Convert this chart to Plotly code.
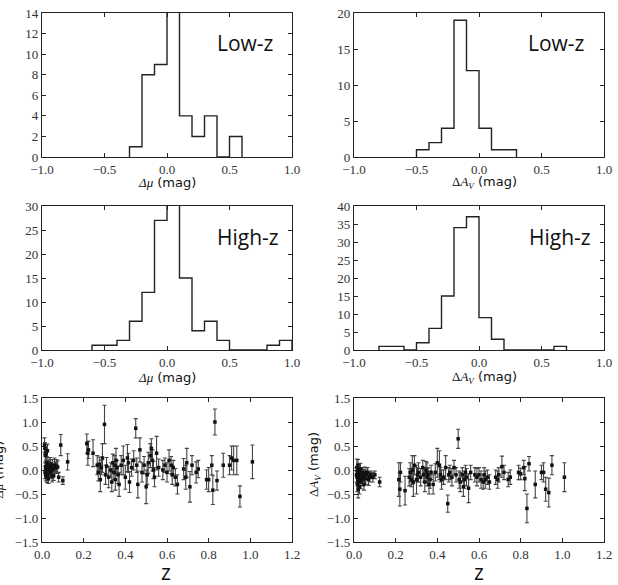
import plotly.graph_objects as go
from plotly.subplots import make_subplots

# ---------------- histogram data ----------------
lowz_dmu_edges = [-0.3, -0.2, -0.1, 0.0, 0.1, 0.2, 0.3, 0.4, 0.5, 0.6]
lowz_dmu_counts = [1, 8, 9, 15, 4, 2, 4, 0, 2]
lowz_dav_edges = [-0.5, -0.4, -0.3, -0.2, -0.1, 0.0, 0.1, 0.2, 0.3]
lowz_dav_counts = [1, 2, 4, 19, 12, 4, 1, 1]
highz_dmu_edges = [-0.6, -0.5, -0.4, -0.3, -0.2, -0.1, 0.0, 0.1, 0.2, 0.3, 0.4, 0.5, 0.6, 0.7, 0.8, 0.9, 1.0]
highz_dmu_counts = [1, 1, 2, 6, 12, 27, 33, 15, 4, 6, 2, 0, 0, 0, 1, 2]
highz_dav_edges = [-0.8, -0.7, -0.6, -0.5, -0.4, -0.3, -0.2, -0.1, 0.0, 0.1, 0.2, 0.3, 0.4, 0.5, 0.6, 0.7]
highz_dav_counts = [1, 1, 0, 2, 6, 15, 34, 37, 9, 3, 0, 0, 0, 0, 1]

# mean markers (dotted) per histogram
mean_lowz_dmu = 0.005
mean_lowz_dav = -0.08
mean_highz_dmu = 0.01
mean_highz_dav = -0.13
mean_dav_all = -0.1

# ---------------- scatter data ----------------
z_low = [0.012, 0.014, 0.015, 0.016, 0.017, 0.018, 0.019, 0.020, 0.021, 0.022,
         0.023, 0.024, 0.025, 0.026, 0.027, 0.028, 0.030, 0.031, 0.033, 0.035,
         0.037, 0.040, 0.042, 0.045, 0.048, 0.050, 0.053, 0.056, 0.060, 0.065,
         0.070, 0.075, 0.080, 0.090, 0.100, 0.123]
dmu_low = [0.52, 0.45, -0.05, 0.30, 0.02, -0.12, 0.08, 0.35, -0.08, 0.05,
           0.15, -0.15, 0.00, 0.40, -0.10, 0.03, 0.06, -0.18, 0.10, 0.07,
           -0.02, 0.12, -0.06, 0.04, -0.14, 0.09, 0.01, -0.12, 0.10, 0.05,
           0.08, 0.06, -0.15, 0.52, -0.22, 0.17]
dmu_err_low = [0.15, 0.12, 0.13, 0.14, 0.12, 0.11, 0.12, 0.15, 0.10, 0.12,
               0.13, 0.11, 0.10, 0.14, 0.12, 0.11, 0.12, 0.10, 0.13, 0.12,
               0.11, 0.14, 0.10, 0.12, 0.11, 0.13, 0.12, 0.10, 0.15, 0.12,
               0.14, 0.13, 0.10, 0.22, 0.08, 0.17]
dav_low = [-0.10, 0.05, -0.15, -0.30, -0.05, -0.20, 0.10, -0.40, -0.10, -0.25,
           0.00, -0.15, -0.05, -0.35, -0.20, -0.10, -0.12, 0.02, -0.25, -0.08,
           -0.15, -0.05, -0.20, -0.10, -0.30, -0.15, -0.05, -0.18, -0.10, -0.05,
           -0.20, -0.15, -0.10, -0.15, -0.10, -0.25]
dav_err_low = [0.15, 0.18, 0.12, 0.15, 0.12, 0.15, 0.12, 0.18, 0.10, 0.14,
               0.12, 0.13, 0.10, 0.15, 0.12, 0.11, 0.10, 0.12, 0.14, 0.10,
               0.12, 0.10, 0.13, 0.11, 0.12, 0.10, 0.11, 0.12, 0.10, 0.10,
               0.12, 0.10, 0.08, 0.10, 0.08, 0.10]

z_high = [0.215, 0.22, 0.223, 0.245, 0.265, 0.27, 0.275, 0.28, 0.285, 0.29,
          0.30, 0.305, 0.31, 0.32, 0.33, 0.335, 0.34, 0.345, 0.35, 0.352,
          0.355, 0.36, 0.365, 0.37, 0.38, 0.39, 0.40, 0.41, 0.415, 0.42,
          0.43, 0.44, 0.45, 0.455, 0.46, 0.47, 0.48, 0.49, 0.50, 0.505,
          0.51, 0.52, 0.525, 0.53, 0.535, 0.54, 0.55, 0.56, 0.58, 0.59,
          0.60, 0.61, 0.62, 0.625, 0.63, 0.64, 0.65, 0.68, 0.69, 0.695,
          0.71, 0.72, 0.74, 0.75, 0.79, 0.80, 0.815, 0.82, 0.83, 0.84,
          0.87, 0.90, 0.91, 0.92, 0.935, 0.95, 1.01]
dmu_high = [0.55, 0.35, 0.42, 0.35, 0.10, -0.05, 0.12, -0.20, 0.05, 0.25,
            0.95, -0.10, 0.08, -0.15, 0.00, -0.25, 0.15, -0.05, 0.10, -0.20,
            0.20, 0.05, -0.10, -0.30, 0.10, 0.20, -0.15, 0.25, 0.15, -0.25,
            0.05, 0.20, 0.87, 0.10, -0.30, 0.42, -0.05, 0.10, -0.35, -0.10,
            0.15, 0.30, 0.45, 0.20, 0.00, -0.15, 0.35, 0.05, 0.00, 0.10,
            -0.05, 0.20, 0.10, -0.10, 0.05, -0.15, -0.30, 0.02, -0.15, 0.15,
            -0.35, 0.10, -0.05, 0.02, -0.20, -0.20, 0.10, -0.42, 1.00, -0.22,
            0.10, 0.10, 0.25, 0.20, 0.20, -0.55, 0.17]
dmu_err_high = [0.20, 0.25, 0.18, 0.28, 0.20, 0.18, 0.15, 0.25, 0.15, 0.30,
                0.40, 0.20, 0.18, 0.22, 0.15, 0.20, 0.18, 0.15, 0.20, 0.22,
                0.25, 0.15, 0.18, 0.25, 0.20, 0.30, 0.25, 0.28, 0.20, 0.22,
                0.18, 0.20, 0.20, 0.15, 0.28, 0.25, 0.20, 0.18, 0.35, 0.20,
                0.22, 0.25, 0.20, 0.22, 0.18, 0.20, 0.35, 0.18, 0.20, 0.15,
                0.20, 0.22, 0.18, 0.20, 0.15, 0.18, 0.20, 0.22, 0.25, 0.30,
                0.32, 0.20, 0.22, 0.18, 0.20, 0.25, 0.20, 0.30, 0.27, 0.20,
                0.25, 0.20, 0.25, 0.30, 0.30, 0.22, 0.35]
dav_high = [-0.20, -0.40, -0.05, -0.43, -0.15, -0.05, -0.20, 0.00, -0.25, 0.10,
            -0.20, -0.10, -0.05, -0.15, 0.05, -0.10, -0.25, 0.00, -0.05, -0.15,
            -0.10, -0.30, -0.20, -0.05, -0.30, -0.05, 0.15, 0.10, -0.10, -0.20,
            -0.15, 0.05, -0.70, -0.10, -0.05, -0.15, 0.05, -0.10, 0.65, -0.20,
            -0.25, -0.10, -0.35, -0.20, -0.05, -0.15, -0.38, -0.05, -0.10, -0.15,
            -0.10, -0.20, -0.25, -0.10, -0.20, -0.15, -0.25, -0.15, -0.20, -0.10,
            0.07, -0.05, -0.20, -0.15, -0.05, -0.08, 0.05, -0.18, -0.80, 0.13,
            -0.30, -0.05, -0.05, -0.40, -0.47, 0.10, -0.15]
dav_err_high = [0.35, 0.35, 0.20, 0.30, 0.18, 0.20, 0.15, 0.30, 0.30, 0.20,
                0.30, 0.15, 0.20, 0.18, 0.15, 0.15, 0.20, 0.18, 0.20, 0.18,
                0.15, 0.20, 0.18, 0.15, 0.20, 0.18, 0.30, 0.30, 0.15, 0.20,
                0.15, 0.25, 0.18, 0.15, 0.15, 0.18, 0.15, 0.15, 0.20, 0.18,
                0.20, 0.15, 0.20, 0.18, 0.15, 0.18, 0.30, 0.15, 0.15, 0.18,
                0.15, 0.18, 0.15, 0.15, 0.18, 0.15, 0.15, 0.15, 0.18, 0.15,
                0.22, 0.15, 0.15, 0.15, 0.15, 0.12, 0.15, 0.25, 0.30, 0.15,
                0.28, 0.15, 0.20, 0.25, 0.30, 0.20, 0.30]

z_all = z_low + z_high
dmu_all = dmu_low + dmu_high
dmu_err_all = dmu_err_low + dmu_err_high
dav_all = dav_low + dav_high
dav_err_all = dav_err_low + dav_err_high

# ---------------- figure ----------------
W, H = 618, 585
fig = make_subplots(rows=3, cols=2)

SERIF = "Liberation Serif, DejaVu Serif, Times New Roman, serif"
TICKFONT = dict(family=SERIF, size=13, color="#333")
SANS = "DejaVu Sans"


def step_xy(edges, counts):
    xs = [edges[0]] + edges[:-1] + [edges[-1]]
    ys = [0] + counts + [0]
    return xs, ys


hists = [
    (lowz_dmu_edges, lowz_dmu_counts, 1, 1, mean_lowz_dmu),
    (lowz_dav_edges, lowz_dav_counts, 1, 2, mean_lowz_dav),
    (highz_dmu_edges, highz_dmu_counts, 2, 1, mean_highz_dmu),
    (highz_dav_edges, highz_dav_counts, 2, 2, mean_highz_dav),
]
for edges, counts, r, c, m in hists:
    fig.add_vline(x=m, line=dict(color="#999", width=1, dash="dot"), row=r, col=c)
    fig.add_vline(x=0, line=dict(color="#888", width=1.2, dash="dash"), row=r, col=c)
    xs, ys = step_xy(edges, counts)
    fig.add_trace(go.Scatter(x=xs, y=ys, mode="lines", line=dict(shape="hv", color="#222", width=1.4),
                             showlegend=False, hoverinfo="skip"), row=r, col=c)

# scatter panels
fig.add_hline(y=0, line=dict(color="#999", width=1.2), row=3, col=1)
fig.add_hline(y=0, line=dict(color="#666", width=1.2), row=3, col=2)
fig.add_hline(y=mean_dav_all, line=dict(color="#aaa", width=1.2), row=3, col=2)

for vals, errs, c in [(dmu_all, dmu_err_all, 1), (dav_all, dav_err_all, 2)]:
    fig.add_trace(go.Scatter(
        x=z_all, y=vals, mode="markers",
        marker=dict(symbol="square", size=3.5, color="#111"),
        error_y=dict(type="data", array=errs, visible=True, color="#444", thickness=1.1, width=2),
        showlegend=False, hoverinfo="skip"), row=3, col=c)

# domains (in pixels -> paper)
xdom_l = [42 / W, 292 / W]
xdom_r = [354 / W, 604 / W]
ydom = {1: [1 - 157 / H, 1 - 13 / H], 2: [1 - 350 / H, 1 - 206 / H], 3: [1 - 542 / H, 1 - 398 / H]}

axis_common = dict(showline=True, linecolor="#222", linewidth=1.3, mirror="allticks",
                   ticks="inside", ticklen=4, tickcolor="#222", tickwidth=1,
                   showgrid=False, zeroline=False, tickfont=TICKFONT, tickformat=".1f",
                   automargin=False)

y_ranges = {(1, 1): (14, 2), (1, 2): (20, 5), (2, 1): (30, 5), (2, 2): (40, 5)}
idx = 0
for r in (1, 2, 3):
    for c in (1, 2):
        idx += 1
        xa = "xaxis" if idx == 1 else f"xaxis{idx}"
        ya = "yaxis" if idx == 1 else f"yaxis{idx}"
        xd = xdom_l if c == 1 else xdom_r
        if r < 3:
            ymax, dt = y_ranges[(r, c)]
            fig.layout[xa].update(domain=xd, range=[-1.0, 1.0], dtick=0.5, tick0=-1.0, **axis_common)
            ya_common = dict(axis_common)
            ya_common["tickformat"] = "d"
            fig.layout[ya].update(domain=ydom[r], range=[0, ymax], dtick=dt, tick0=0, **ya_common)
        else:
            fig.layout[xa].update(domain=xd, range=[0.0, 1.2], dtick=0.2, tick0=0, **axis_common)
            fig.layout[ya].update(domain=ydom[r], range=[-1.5, 1.5], dtick=0.5, tick0=-1.5, **axis_common)

ann = []


def px(x, y):
    return x / W, 1 - y / H


def add_text(x, y, text, size, family=SANS, angle=0, color="#111"):
    ax, ay = px(x, y)
    ann.append(dict(x=ax, y=ay, xref="paper", yref="paper", text=text, showarrow=False,
                    xanchor="center", yanchor="middle", textangle=angle,
                    font=dict(family=family, size=size, color=color)))


MU = '<span style="font-family:\'Liberation Serif\'"><i>Δμ</i></span> (mag)'
AV = '<span style="font-family:\'Liberation Serif\'">Δ<i>A</i><sub><i>V</i></sub></span> (mag)'

add_text(245, 43, "Low-z", 21, family="Open Sans")
add_text(556, 43, "Low-z", 21, family="Open Sans")
add_text(248, 237, "High-z", 21, family="Open Sans")
add_text(560, 237, "High-z", 21, family="Open Sans")
add_text(167, 182, MU, 13)
add_text(485, 182, AV, 13)
add_text(167, 377, MU, 13)
add_text(485, 377, AV, 13)
add_text(166, 572, "z", 21, family="Open Sans")
add_text(479, 572, "z", 21, family="Open Sans")
add_text(-2, 470, MU, 13, angle=-90)
add_text(314, 465, AV, 13, angle=-90)

fig.update_layout(
    width=W, height=H, margin=dict(l=0, r=0, t=0, b=0),
    paper_bgcolor="white", plot_bgcolor="white",
    annotations=ann, showlegend=False,
)

fig.write_html("out.html")
